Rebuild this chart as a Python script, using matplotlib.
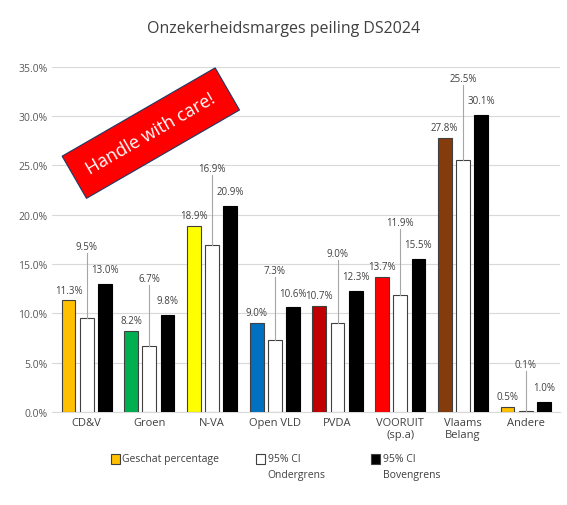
import numpy as np
import matplotlib.pyplot as plt
from matplotlib.patches import Rectangle

parties = ['CD&V', 'Groen', 'N-VA', 'Open VLD', 'PVDA', 'VOORUIT\n(sp.a)', 'Vlaams\nBelang', 'Andere']
estimate = [11.3, 8.2, 18.9, 9.0, 10.7, 13.7, 27.8, 0.5]
lower = [9.5, 6.7, 16.9, 7.3, 9.0, 11.9, 25.5, 0.1]
upper = [13.0, 9.8, 20.9, 10.6, 12.3, 15.5, 30.1, 1.0]
colors = ['#FFC000', '#00B050', '#FFFF00', '#0070C0', '#C00000', '#FF0000', '#843C0C', '#FFC000']
legend_labels = ['Geschat percentage', '95% CI\nOndergrens', '95% CI\nBovengrens']

plt.rcParams['font.family'] = ['Open Sans', 'DejaVu Sans']
fig = plt.figure(figsize=(5.67, 5.06), dpi=100)
ax = fig.add_axes([0.092, 0.184, 0.896, 0.682])

x = np.arange(len(parties))
w = 0.22
off = 0.29
ax.bar(x - off, estimate, w, color=colors, edgecolor='#404040', linewidth=0.8, zorder=3)
ax.bar(x, lower, w, color='white', edgecolor='#404040', linewidth=0.8, zorder=3)
ax.bar(x + off, upper, w, color='black', edgecolor='black', linewidth=0.8, zorder=3)

lc = '#404040'
for i in range(len(parties)):
    ax.text(x[i] - off, estimate[i] + 0.5, f'{estimate[i]:.1f}%', ha='center', va='bottom', fontsize=7, color=lc)
    ax.text(x[i] + off, upper[i] + 0.9, f'{upper[i]:.1f}%', ha='center', va='bottom', fontsize=7, color=lc)
    wy = max(estimate[i], upper[i]) + 3.2
    ax.text(x[i], wy, f'{lower[i]:.1f}%', ha='center', va='bottom', fontsize=7, color=lc)
    ax.plot([x[i], x[i]], [lower[i], wy - 0.1], color='#A6A6A6', lw=0.8, zorder=4)

ax.set_xlim(-0.55, len(parties) - 0.45)
ax.set_ylim(0, 35)
ax.set_yticks(np.arange(0, 35.1, 5))
ax.set_yticklabels([f'{v:.1f}%' for v in np.arange(0, 35.1, 5)], fontsize=7.5, color='#595959')
ax.set_xticks(x)
ax.set_xticklabels(parties, fontsize=8, color='#404040')
ax.tick_params(length=0)
ax.grid(axis='y', color='#D9D9D9', lw=0.8, zorder=0)
for s in ['top', 'right', 'left']:
    ax.spines[s].set_visible(False)
ax.spines['bottom'].set_color('#D9D9D9')

fig.text(0.5, 0.935, 'Onzekerheidsmarges peiling DS2024', ha='center', fontsize=11.5, color='#404040')

fig.text(0.266, 0.735, 'Handle with care!', ha='center', va='center', rotation=30, fontsize=13, color='white',
         bbox=dict(boxstyle='square,pad=0.85', facecolor='#FF0000', edgecolor='#1F3864', linewidth=0.8))

# manual legend
leg_x = [0.195, 0.452, 0.655]
leg_fc = ['#FFC000', 'white', 'black']
for lx, fc, lab in zip(leg_x, leg_fc, legend_labels):
    fig.patches.append(Rectangle((lx, 0.082), 0.016, 0.018, transform=fig.transFigure,
                                 facecolor=fc, edgecolor='#404040', linewidth=0.8))
    fig.text(lx + 0.02, 0.102, lab, ha='left', va='top', fontsize=7.5, color=lc, linespacing=1.6)

fig.savefig('out.png', dpi=100)
